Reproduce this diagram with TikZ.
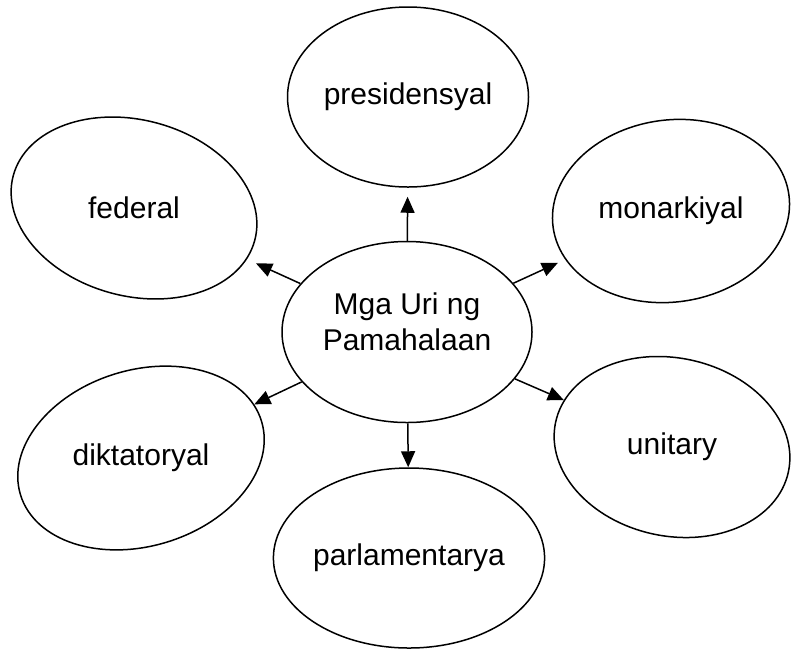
\documentclass[tikz,border=0pt]{standalone}
\usepackage{fontspec}
\setmainfont{Liberation Sans}
\usetikzlibrary{shapes.geometric,arrows.meta}

\begin{document}
\begin{tikzpicture}[x=1pt, y=-1pt,
    oval/.style={ellipse, draw, line width=1.5pt, inner sep=0pt, font=\fontsize{30}{36}\selectfont},
    arr/.style={line width=1.5pt, -{Triangle[length=16pt,width=14pt]}}]
\useasboundingbox (0,0) rectangle (791,649);

\node[oval, minimum width=250pt, minimum height=181pt] (mga)  at (407,332) {\raisebox{0pt}[0pt][0pt]{\begin{tabular}{@{}c@{}}Mga Uri ng\\Pamahalaan\end{tabular}}};
\node[oval, minimum width=241pt, minimum height=180pt] (pres) at (408,97) {presidensyal};
\node[oval, rotate=-15, minimum width=250pt, minimum height=176pt] (fed) at (134,208) {\rotatebox{15}{federal}};
\node[oval, rotate=8, minimum width=238pt, minimum height=182pt] (mon) at (671,211) {\rotatebox{-8}{monarkiyal}};
\node[oval, rotate=17, minimum width=252pt, minimum height=176pt] (dik) at (141,458) {\rotatebox{-17}{diktatoryal}};
\node[oval, rotate=-12, minimum width=238pt, minimum height=178pt] (uni) at (672,447) {\rotatebox{12}{unitary}};
\node[oval, minimum width=248pt, minimum height=180pt] (parl) at (409,558) {parlamentarya};

\draw[arr, shorten >=9pt] (mga) -- (pres);
\draw[arr, shorten >=10pt] (mga) -- (fed);
\draw[arr, shorten >=8pt] (mga) -- (mon);
\draw[arr] (mga) -- (dik);
\draw[arr] (mga) -- (uni);
\draw[arr] (mga) -- (parl);
\end{tikzpicture}
\end{document}
